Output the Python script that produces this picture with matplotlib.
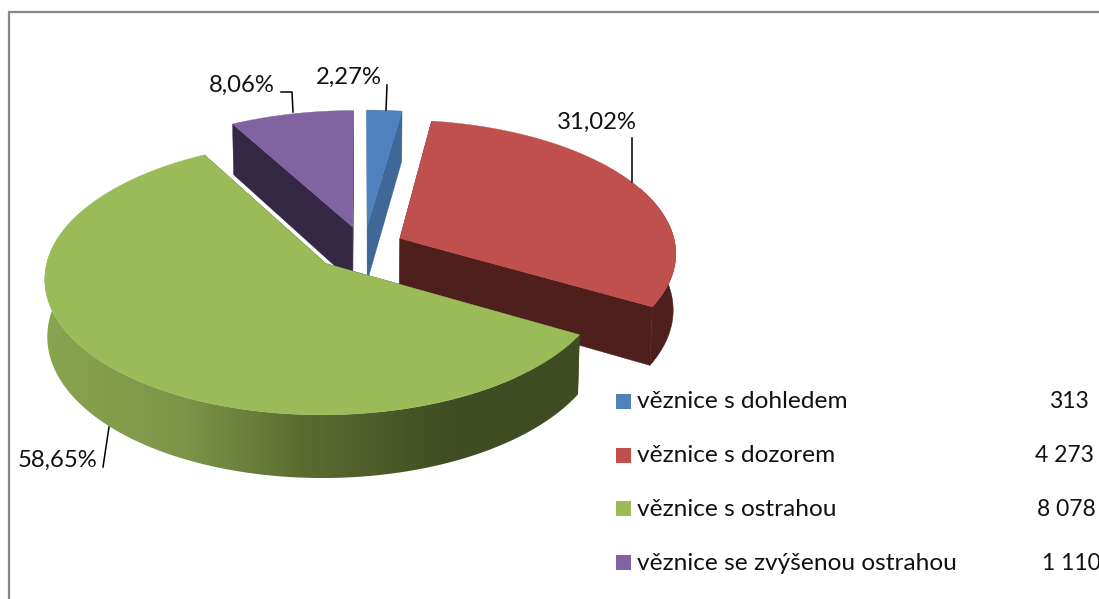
import numpy as np
import matplotlib
matplotlib.use('Agg')
import matplotlib.pyplot as plt
from matplotlib.colors import LinearSegmentedColormap
from matplotlib.patches import Polygon

categories = ['věznice s dohledem', 'věznice s dozorem', 'věznice s ostrahou', 'věznice se zvýšenou ostrahou']
values = [313, 4273, 8078, 1110]
value_labels = ['313', '4 273', '8 078', '1 110']

top_colors = ['#4f81bd', '#c0504d', '#9bbb59', '#8064a2']
wall_colors = ['#3f6797', '#4f1f1e', '#3f4c22', '#352845']
green_wall = LinearSegmentedColormap.from_list(
    'green_wall', [(0, '#8aa550'), (0.27, '#7c9448'), (0.48, '#5c6c30'), (0.76, '#3f4c22'), (1, '#3f4c22')])

# pie geometry in pixels
cx, cy = 359, 248
rx, ry = 276, 132.4
persp = 0.102
explode = 0.166
depth = 56
bottom_shrink = 0.992
nudge_x = [5, 0, 0, 5]

plt.rcParams['font.family'] = ['Lato', 'DejaVu Sans']

fig = plt.figure(figsize=(10.99, 5.99), dpi=100)
ax = fig.add_axes([0, 0, 1, 1])
ax.axis('off')


def project(theta, r, off_x, off_y, drop=0):
    X = r * np.sin(theta) + off_x
    Y = r * np.cos(theta) + off_y
    s = 1 / (1 + persp * Y)
    shrink = bottom_shrink if drop else 1
    return cx + rx * X * s * shrink, cy - ry * Y * s + drop * s


total = sum(values)
fractions = np.array(values) / total
edges = np.concatenate([[0], np.cumsum(fractions)]) * 2 * np.pi

# back slices first, green last
order = [3, 0, 1, 2]
for i in order:
    t0, t1 = edges[i], edges[i + 1]
    mid = (t0 + t1) / 2
    ox, oy = explode * np.sin(mid), explode * np.cos(mid)
    thetas = np.linspace(t0, t1, max(int((t1 - t0) * 60), 6))

    # cut faces
    for t in (t0, t1):
        px0, py0 = project(t, 0, ox, oy)
        px1, py1 = project(t, 1, ox, oy)
        px2, py2 = project(t, 1, ox, oy, depth)
        px3, py3 = project(t, 0, ox, oy, depth)
        ax.fill(np.array([px0, px1, px2, px3]) + nudge_x[i], [py0, py1, py2, py3], color=wall_colors[i], lw=0.3)

    # outer wall, started a bit behind the widest point so the silhouette stays closed
    front = thetas[np.cos(thetas) < 0.4]
    if len(front) > 1:
        xt, yt = project(front, 1, ox, oy)
        xb, yb = project(front, 1, ox, oy, depth)
        wall = np.column_stack([np.r_[xt, xb[::-1]] + nudge_x[i], np.r_[yt, yb[::-1]]])
        if i == 2:
            # gradient runs left to right across the wall
            patch = Polygon(wall, closed=True, transform=ax.transData, fc='none', ec='none')
            ax.add_patch(patch)
            img = ax.imshow(np.linspace(0, 1, 256)[None, :], cmap=green_wall, aspect='auto',
                            extent=(40, 585, 480, 200), zorder=1)
            img.set_clip_path(patch)
        else:
            ax.fill(wall[:, 0], wall[:, 1], color=wall_colors[i], lw=0.3, zorder=1)

    # top face
    xs, ys = project(thetas, 1, ox, oy)
    px0, py0 = project(t0, 0, ox, oy)
    ax.fill(np.r_[px0, xs] + nudge_x[i], np.r_[py0, ys], color=top_colors[i], lw=0.3, zorder=1.5 if i != 2 else 2)

ax.set_xlim(0, 1099)
ax.set_ylim(599, 0)

# chart frame, runs off the right and bottom edges
ax.plot([9, 9, 1099], [599, 12, 12], color='#868686', lw=1.6, solid_joinstyle='miter', zorder=3)

# data labels with leader lines
label_xy = [(316, 77), (557, 122), (18, 460), (209, 85)]
leaders = [
    [(386, 110), (387, 85)],
    [(632, 182), (632, 138)],
    [(109, 427), (103, 467)],
    [(293, 112), (292, 92), (281, 92)],
]
for i, v in enumerate(values):
    txt = f'{100 * v / total:.2f}%'.replace('.', ',')
    ax.text(label_xy[i][0], label_xy[i][1], txt, fontsize=17.2, color='#111111', ha='left', va='center', zorder=4)
    pts = np.array(leaders[i])
    ax.plot(pts[:, 0], pts[:, 1], color='black', lw=1.1, zorder=4)

# legend
legend_y = [401, 455, 508, 562]
value_x = [1049, 1035, 1037, 1042]
for i, name in enumerate(categories):
    ax.fill([616, 631, 631, 616],
            [legend_y[i] - 7.5, legend_y[i] - 7.5, legend_y[i] + 7.5, legend_y[i] + 7.5],
            color=top_colors[i], lw=0, zorder=4)
    ax.text(637, legend_y[i] + 1, name, fontsize=17.6, color='#111111', ha='left', va='center', zorder=4)
    ax.text(value_x[i], legend_y[i] + 1, value_labels[i], fontsize=16.5, color='#111111', ha='left', va='center', zorder=4)

fig.savefig('out.png', dpi=100, facecolor='white')
plt.close(fig)
